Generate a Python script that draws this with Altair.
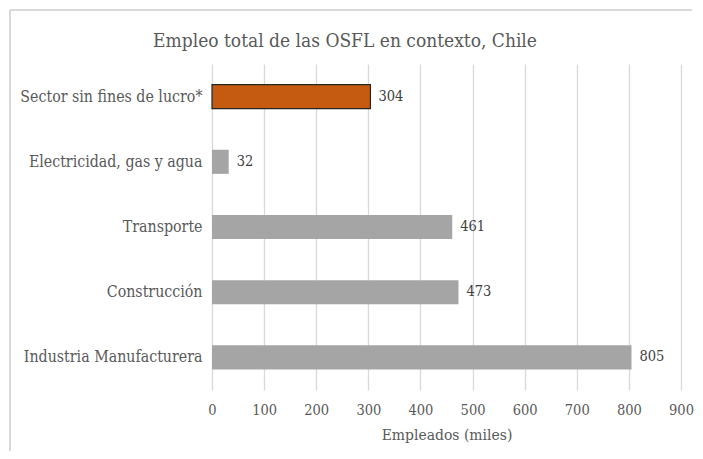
import altair as alt
import pandas as pd

categories = ["Sector sin fines de lucro*", "Electricidad, gas y agua", "Transporte",
              "Construcción", "Industria Manufacturera"]
values = [304, 32, 461, 473, 805]
highlight = [True, False, False, False, False]
title_text = ["Empleo total de las OSFL en contexto, Chile"]

df = pd.DataFrame({"sector": categories, "empleo": values, "hl": highlight})

FONT = "DejaVu Serif Condensed"
FS = 14.5
GRAY_TXT = "#595959"

y_enc = alt.Y("sector:N", sort=categories, title=None,
              scale=alt.Scale(paddingInner=0.63, paddingOuter=0.315),
              axis=alt.Axis(labelFont=FONT, labelFontSize=15.8, labelColor=GRAY_TXT,
                            labelPadding=10, ticks=False, domain=False, labelLimit=300))
x_enc = alt.X("empleo:Q", title="Empleados (miles)",
              scale=alt.Scale(domain=[0, 900], nice=False),
              axis=alt.Axis(values=list(range(0, 1000, 100)), labelFont=FONT, labelFontSize=FS,
                            labelColor=GRAY_TXT, titleFont=FONT, titleFontSize=15.5,
                            titleColor=GRAY_TXT, titleFontWeight="normal", titlePadding=11,
                            labelPadding=13, labelFlush=False, ticks=False, domain=False,
                            grid=True, gridColor="#d9d9d9", gridWidth=1.3))

bars = alt.Chart(df).mark_bar().encode(
    x=x_enc, y=y_enc,
    color=alt.condition("datum.hl", alt.value("#c55a11"), alt.value("#a5a5a5")),
    stroke=alt.condition("datum.hl", alt.value("#262626"), alt.value(None)),
    strokeWidth=alt.condition("datum.hl", alt.value(1.2), alt.value(0)),
)

labels = alt.Chart(df).mark_text(align="left", baseline="middle", dx=8, font=FONT,
                                 fontSize=FS, color="#404040").encode(
    x="empleo:Q", y=alt.Y("sector:N", sort=categories), text="empleo:Q")

title_mark = alt.Chart(pd.DataFrame({"t": title_text})).mark_text(
    font=FONT, fontSize=19, color=GRAY_TXT, align="center", baseline="alphabetic"
).encode(text="t:N", x=alt.value(133), y=alt.value(-17))

frame_left = alt.Chart(df).mark_rule(color="#d9d9d9", strokeWidth=1.5).encode(
    x=alt.value(-202), y=alt.value(-54), y2=alt.value(387))
frame_top = alt.Chart(df).mark_rule(color="#d9d9d9", strokeWidth=1.5).encode(
    x=alt.value(-202), x2=alt.value(480), y=alt.value(-54))

chart = alt.layer(bars, labels, title_mark, frame_left, frame_top).properties(
    width=469, height=326,
    autosize=alt.AutoSizeParams(type="none"),
    padding={"left": 204, "top": 56, "right": 14, "bottom": 61},
).configure_view(stroke=None)

chart.save("out.html", embed_options={"renderer": "svg", "actions": False})
